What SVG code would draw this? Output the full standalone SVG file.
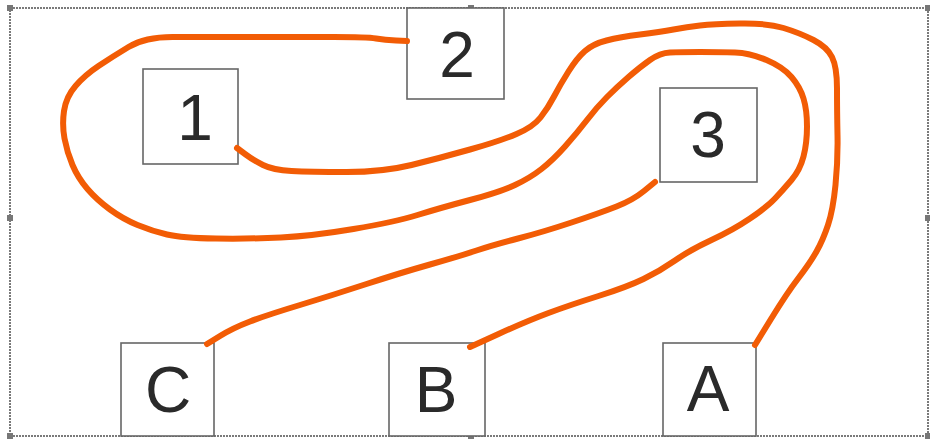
<svg xmlns="http://www.w3.org/2000/svg" width="930" height="440" viewBox="0 0 930 440">
  <style>
    .frame { fill: none; stroke: #7a7a7a; stroke-width: 2; stroke-dasharray: 2 1; }
    .handle { fill: #777; }
    .box { fill: #fff; stroke: #666; stroke-width: 1.6; }
    .label { font-family: "Liberation Sans", Arial, sans-serif; font-size: 64px; fill: #2a2a2a; text-anchor: middle; }
    .wire { fill: none; stroke: #F25C05; stroke-width: 6; stroke-linecap: round; stroke-linejoin: round; }
  </style>
  <rect width="930" height="440" fill="#fff"/>

  <!-- selection frame with handles -->
  <g id="frame">
    <rect class="frame" x="10" y="8" width="918" height="428"/>
    <rect class="handle" x="7" y="5" width="6" height="6"/>
    <rect class="handle" x="468" y="5" width="6" height="6"/>
    <rect class="handle" x="925" y="5" width="5" height="6"/>
    <rect class="handle" x="7" y="215" width="6" height="6"/>
    <rect class="handle" x="925" y="215" width="5" height="6"/>
    <rect class="handle" x="7" y="433" width="6" height="6"/>
    <rect class="handle" x="468" y="433" width="6" height="6"/>
    <rect class="handle" x="925" y="433" width="5" height="6"/>
  </g>

  <g id="node-1">
    <rect class="box" x="143" y="69" width="95" height="95"/>
    <text class="label" x="195" y="140">1</text>
  </g>
  <g id="node-2">
    <rect class="box" x="407" y="8" width="97" height="91"/>
    <text class="label" x="457" y="77">2</text>
  </g>
  <g id="node-3">
    <rect class="box" x="660" y="88" width="97" height="94"/>
    <text class="label" x="708" y="157">3</text>
  </g>
  <g id="node-C">
    <rect class="box" x="121" y="343" width="93" height="93"/>
    <text class="label" x="168" y="412">C</text>
  </g>
  <g id="node-B">
    <rect class="box" x="389" y="343" width="96" height="93"/>
    <text class="label" x="436" y="412">B</text>
  </g>
  <g id="node-A">
    <rect class="box" x="663" y="343" width="93" height="93"/>
    <text class="label" x="708" y="411">A</text>
  </g>

  <g id="connectors">
    <!-- 2 to B -->
    <path class="wire" d="M407,41 L396,40.5 Q385,40 376,38.5 Q367,37 333.5,37 Q300,37 250,37 Q200,37 172.5,37 Q145,37 128.5,47 Q112,57 98.5,66 Q85,75 75.5,86 Q66,97 64,111 Q62,125 64.5,138.5 Q67,152 72.5,165 Q78,178 87.5,189 Q97,200 110,209.5 Q123,219 137.5,225 Q152,231 167,234.5 Q182,238 216,238.5 Q250,239 281,237.5 Q312,236 353.5,229 Q395,222 417.5,215 Q440,208 470,200 Q500,192 515,185 Q530,178 541.5,169 Q553,160 565,146.5 Q577,133 587,120 Q597,107 607,97 Q617,87 628.5,77 Q640,67 650,60 Q660,53 670,52.5 Q680,52 700,52 Q720,52 735,52.5 Q750,53 766.5,60 Q783,67 791.5,77 Q800,87 803.5,98.5 Q807,110 807,126.5 Q807,143 803.5,156.5 Q800,170 791.5,180 Q783,190 775,198.5 Q767,207 750,218.5 Q733,230 711.5,240 Q690,250 675,260.5 Q660,271 643.5,279 Q627,287 598.5,296 Q570,305 548.5,313 Q527,321 498.5,334 L470,347"/>
    <!-- 1 to A -->
    <path class="wire" d="M237,148 L245,154 Q253,160 263,165 Q273,170 291.5,171 Q310,172 346.5,172 Q383,172 411.5,165 Q440,158 470,149.5 Q500,141 516.5,134 Q533,127 540.5,117.5 Q548,108 554,96.5 Q560,85 568.5,71.5 Q577,58 585,51 Q593,44 606.5,40.5 Q620,37 640,34.5 Q660,32 673.5,29.5 Q687,27 700,25.5 Q713,24 740,23.5 Q767,23 783.5,28 Q800,33 813.5,40 Q827,47 832,57 Q837,67 837,88.5 Q837,110 837.5,135 Q838,160 835.5,185 Q833,210 828,225 Q823,240 816.5,251.5 Q810,263 798.5,278 Q787,293 771,319 L755,345"/>
    <!-- 3 to C -->
    <path class="wire" d="M655,182 L644,191 Q633,200 616.5,206.5 Q600,213 571.5,222.5 Q543,232 518,238.5 Q493,245 476.5,250.5 Q460,256 430,264.5 Q400,273 366.5,284 Q333,295 300,305 Q267,315 250,321.5 Q233,328 220,336 L207,344"/>
  </g>
</svg>
